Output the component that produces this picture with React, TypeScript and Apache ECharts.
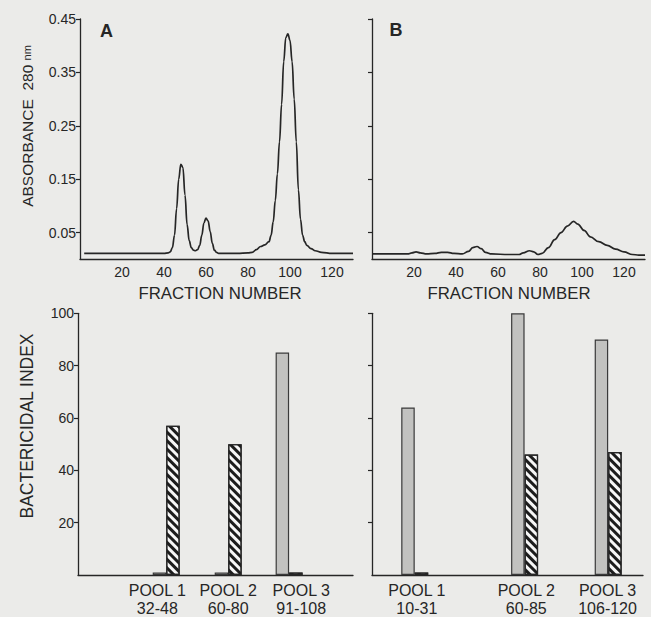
import React, { useEffect, useRef } from "react";
import * as echarts from "echarts";

// Panel A elution profile (fraction number, absorbance 280 nm)
const fractionA = [2, 10, 20, 30, 40, 42, 43, 44, 45, 46, 47, 48, 49, 50, 51, 52, 53, 54, 55, 56, 57, 58, 59, 60, 61, 62, 63, 64, 65, 66, 70, 75, 80, 82, 84, 86, 88, 90, 91, 92, 93, 94, 95, 96, 97, 98, 99, 100, 101, 102, 103, 104, 105, 106, 107, 108, 110, 112, 115, 120, 125, 130];
const absorbA = [0.011, 0.011, 0.011, 0.011, 0.011, 0.012, 0.014, 0.022, 0.045, 0.095, 0.15, 0.178, 0.172, 0.12, 0.065, 0.035, 0.022, 0.017, 0.016, 0.018, 0.026, 0.045, 0.068, 0.077, 0.072, 0.052, 0.03, 0.017, 0.013, 0.011, 0.011, 0.011, 0.012, 0.013, 0.018, 0.024, 0.027, 0.033, 0.045, 0.07, 0.11, 0.16, 0.22, 0.29, 0.37, 0.415, 0.422, 0.41, 0.37, 0.3, 0.22, 0.13, 0.075, 0.045, 0.033, 0.026, 0.02, 0.016, 0.013, 0.011, 0.011, 0.011];

// Panel B elution profile
const fractionB = [0, 10, 17, 19, 21, 23, 26, 30, 33, 36, 39, 43, 46, 48, 50, 52, 54, 57, 65, 70, 72, 75, 77, 79, 81, 84, 87, 90, 93, 96, 98, 101, 104, 108, 112, 116, 120, 124, 127, 130];
const absorbB = [0.01, 0.01, 0.01, 0.012, 0.014, 0.012, 0.01, 0.011, 0.013, 0.013, 0.011, 0.01, 0.015, 0.022, 0.024, 0.02, 0.013, 0.01, 0.009, 0.009, 0.012, 0.016, 0.014, 0.009, 0.011, 0.022, 0.037, 0.05, 0.062, 0.071, 0.066, 0.054, 0.042, 0.033, 0.026, 0.019, 0.014, 0.009, 0.008, 0.008];

// Bactericidal index per pool
const poolPosA = [41.7, 71, 99.8];
const greyA = [1, 1, 85];
const hatchA = [57, 50, 1];
const poolPosB = [20.5, 73.2, 113.3];
const greyB = [64, 100, 90];
const hatchB = [1, 46, 47];

const poolNames = ["POOL 1", "POOL 2", "POOL 3"];
const rangesA = ["32-48", "60-80", "91-108"];
const rangesB = ["10-31", "60-85", "106-120"];
const labelPosA = [37.5, 71, 105.5];
const labelPosB = [21.5, 74, 113];

const absTicks = [0.05, 0.15, 0.25, 0.35, 0.45];
const fracTicks = [20, 40, 60, 80, 100, 120];
const indexTicks = [20, 40, 60, 80, 100];

const INK = "#262626";
const BG = "#ebebe9";
const NUMFONT = "Liberation Sans";

export default function App() {
  const ref = useRef<HTMLDivElement>(null);
  useEffect(() => {
    document.body.style.margin = "0";
    const chart = echarts.init(ref.current!, null, { renderer: "svg" });

    const axisLine = { show: true, lineStyle: { color: INK, width: 1.3 } };
    const xTop = (gi: number) => ({
      type: "value",
      gridIndex: gi,
      min: 0,
      max: 130,
      axisLine,
      axisTick: { show: false },
      splitLine: { show: false },
      axisLabel: {
        customValues: fracTicks,
        color: INK,
        fontFamily: NUMFONT,
        fontSize: 14,
        margin: 6,
      },
    });
    const yTop = (gi: number, showLabels: boolean) => ({
      type: "value",
      gridIndex: gi,
      min: 0,
      max: 0.45,
      axisLine,
      axisTick: { show: true, customValues: absTicks, length: 4, lineStyle: { color: INK, width: 1.2 } },
      splitLine: { show: false },
      axisLabel: {
        show: showLabels,
        customValues: absTicks,
        formatter: (v: number) => v.toFixed(2),
        color: INK,
        fontFamily: NUMFONT,
        fontSize: 14,
        margin: 4,
      },
    });
    const xBottom = (gi: number, pos: number[], ranges: string[]) => ({
      type: "value",
      gridIndex: gi,
      min: 0,
      max: 130,
      axisLine,
      axisTick: { show: false },
      splitLine: { show: false },
      axisLabel: {
        customValues: pos,
        formatter: (v: number) => {
          let idx = 0;
          pos.forEach((p, i) => {
            if (Math.abs(p - v) < Math.abs(pos[idx] - v)) idx = i;
          });
          return poolNames[idx] + "\n" + ranges[idx];
        },
        color: INK,
        fontFamily: NUMFONT,
        fontSize: 16,
        lineHeight: 18,
        margin: 6,
      },
    });
    const yBottom = (gi: number, showLabels: boolean) => ({
      type: "value",
      gridIndex: gi,
      min: 0,
      max: 100,
      axisLine,
      axisTick: { show: true, customValues: indexTicks, length: 4, lineStyle: { color: INK, width: 1.2 } },
      splitLine: { show: false },
      axisLabel: {
        show: showLabels,
        customValues: indexTicks,
        color: INK,
        fontFamily: NUMFONT,
        fontSize: 14,
        margin: 4,
      },
    });

    const hatchStyle = {
      color: "#f6f6f6",
      borderColor: INK,
      borderWidth: 1.2,
      decal: {
        symbol: "rect",
        symbolSize: 1,
        color: "#1c1c1c",
        dashArrayX: [1, 0],
        dashArrayY: [3, 3],
        rotation: Math.PI / 4,
      },
    };
    const greyStyle = { color: "#c2c2c0", borderColor: "#3a3a3a", borderWidth: 1.2 };

    const pair = (xs: number[], ys: number[]) => xs.map((x, i) => [x, ys[i]]);

    const option: any = {
      animation: false,
      backgroundColor: BG,
      grid: [
        { left: 80, top: 19, width: 273, height: 240.3 },
        { left: 372, top: 19, width: 273, height: 240.3 },
        { left: 78, top: 313.3, width: 275, height: 264 },
        { left: 372, top: 313.3, width: 271, height: 264 },
      ],
      xAxis: [xTop(0), xTop(1), xBottom(2, labelPosA, rangesA), xBottom(3, labelPosB, rangesB)],
      yAxis: [yTop(0, true), yTop(1, false), yBottom(2, true), yBottom(3, false)],
      series: [
        {
          type: "line",
          xAxisIndex: 0,
          yAxisIndex: 0,
          data: pair(fractionA, absorbA),
          smooth: 0.4,
          smoothMonotone: "x",
          showSymbol: false,
          lineStyle: { color: INK, width: 1.7 },
        },
        {
          type: "line",
          xAxisIndex: 1,
          yAxisIndex: 1,
          data: pair(fractionB, absorbB),
          smooth: 0.4,
          smoothMonotone: "x",
          showSymbol: false,
          lineStyle: { color: INK, width: 1.7 },
        },
        {
          type: "bar",
          xAxisIndex: 2,
          yAxisIndex: 2,
          data: pair(poolPosA, greyA),
          barWidth: 13.5,
          barGap: "0%",
          itemStyle: greyStyle,
        },
        {
          type: "bar",
          xAxisIndex: 2,
          yAxisIndex: 2,
          data: pair(poolPosA, hatchA),
          barWidth: 13.5,
          barGap: "0%",
          itemStyle: hatchStyle,
        },
        {
          type: "bar",
          xAxisIndex: 3,
          yAxisIndex: 3,
          data: pair(poolPosB, greyB),
          barWidth: 13.5,
          barGap: "0%",
          itemStyle: greyStyle,
        },
        {
          type: "bar",
          xAxisIndex: 3,
          yAxisIndex: 3,
          data: pair(poolPosB, hatchB),
          barWidth: 13.5,
          barGap: "0%",
          itemStyle: hatchStyle,
        },
      ],
      graphic: [
        {
          type: "text",
          x: 106.5,
          y: 31,
          style: { text: "A", fill: INK, font: "bold 18px 'Liberation Sans'", align: "center", verticalAlign: "middle" },
        },
        {
          type: "text",
          x: 396,
          y: 30,
          style: { text: "B", fill: INK, font: "bold 18px 'Liberation Sans'", align: "center", verticalAlign: "middle" },
        },
        {
          type: "text",
          x: 220,
          y: 293,
          style: { text: "FRACTION NUMBER", fill: INK, font: "16.8px 'Liberation Sans'", align: "center", verticalAlign: "middle" },
        },
        {
          type: "text",
          x: 509,
          y: 293,
          style: { text: "FRACTION NUMBER", fill: INK, font: "16.8px 'Liberation Sans'", align: "center", verticalAlign: "middle" },
        },
        {
          type: "text",
          x: 27,
          y: 126,
          rotation: Math.PI / 2,
          style: {
            text: "{a|ABSORBANCE  280 }{b|nm}",
            fill: INK,
            align: "center",
            verticalAlign: "middle",
            rich: {
              a: { fontFamily: "Liberation Sans", fontSize: 15.5, fill: INK },
              b: { fontFamily: "Liberation Sans", fontSize: 11, fill: INK },
            },
          },
        },
        {
          type: "text",
          x: 27,
          y: 426,
          rotation: Math.PI / 2,
          style: { text: "BACTERICIDAL INDEX", fill: INK, font: "17.5px 'Liberation Sans'", align: "center", verticalAlign: "middle" },
        },
      ],
    };
    chart.setOption(option);
    return () => chart.dispose();
  }, []);
  return <div ref={ref} style={{ width: 651, height: 617, position: "absolute", left: 0, top: 0 }} />;
}
